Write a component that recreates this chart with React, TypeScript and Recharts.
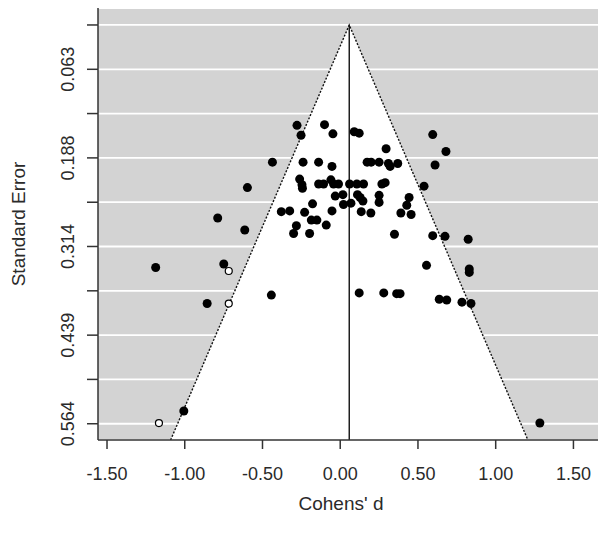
import React from "react";
import {
  ComposedChart,
  Scatter,
  Line,
  Area,
  XAxis,
  YAxis,
  CartesianGrid,
} from "recharts";

// effect sizes (Cohen's d) and standard errors of the observed studies
const studyD: number[] = [
  -1.187, -0.749, -0.856, -0.443, -1.006, -0.788, -0.614, -0.597, -0.436,
  -0.278, -0.252, -0.101, -0.047, 0.09, 0.122, 0.295, 0.595, 0.68, 0.61,
  -0.239, -0.139, -0.053, 0.173, 0.199, 0.25, 0.31, 0.321, 0.37, -0.261,
  -0.246, -0.243, -0.139, -0.107, -0.06, -0.043, -0.011, 0.06, 0.107, 0.15,
  0.268, 0.289, 0.539, -0.032, 0.017, 0.111, 0.128, 0.146, 0.25, 0.25, 0.443,
  0.428, 0.021, 0.069, -0.178, 0.135, 0.197, -0.053, -0.379, -0.325, -0.229,
  -0.186, -0.15, -0.09, -0.282, -0.3, -0.197, 0.349, 0.39, 0.456, 0.595,
  0.674, 0.823, 0.555, 0.83, 0.83, 0.122, 0.28, 0.363, 0.385, 0.637, 0.685,
  0.783, 0.841, 1.284,
];
const studySE: number[] = [
  0.343, 0.338, 0.394, 0.382, 0.546, 0.273, 0.29, 0.23, 0.194, 0.142, 0.156,
  0.141, 0.154, 0.151, 0.153, 0.175, 0.155, 0.179, 0.198, 0.194, 0.194, 0.2,
  0.194, 0.194, 0.194, 0.196, 0.2, 0.196, 0.218, 0.226, 0.231, 0.225, 0.225,
  0.219, 0.225, 0.225, 0.225, 0.225, 0.225, 0.225, 0.223, 0.228, 0.242, 0.24,
  0.24, 0.244, 0.249, 0.241, 0.251, 0.244, 0.255, 0.254, 0.252, 0.253, 0.264,
  0.266, 0.263, 0.264, 0.263, 0.265, 0.276, 0.276, 0.283, 0.284, 0.295, 0.295,
  0.296, 0.266, 0.268, 0.298, 0.299, 0.303, 0.34, 0.345, 0.35, 0.379, 0.379,
  0.38, 0.38, 0.388, 0.389, 0.392, 0.394, 0.563,
];

// imputed (filled) studies
const filledD: number[] = [-0.717, -0.717, -1.166];
const filledSE: number[] = [0.348, 0.394, 0.563];

// funnel outline: bottom-left, apex, bottom-right
const funnelD: number[] = [-1.091, 0.058, 1.207];
const funnelSE: number[] = [0.587, 0, 0.587];
const meanD = 0.058;

const xTicks: number[] = [-1.5, -1, -0.5, 0, 0.5, 1, 1.5];
const xTickLabels: string[] = ["-1.50", "-1.00", "-0.50", "0.00", "0.50", "1.00", "1.50"];
const yTicks: number[] = [0, 0.0627, 0.1253, 0.188, 0.2507, 0.3133, 0.376, 0.4387, 0.5013, 0.564];
const yTickLabels: string[] = ["", "0.063", "", "0.188", "", "0.314", "", "0.439", "", "0.564"];

const studies = studyD.map((d, i) => ({ x: d, se: studySE[i] }));
const imputed = filledD.map((d, i) => ({ x: d, se: filledSE[i] }));
const funnel = funnelD.map((d, i) => ({ x: d, se: funnelSE[i] }));
const meanLine = [
  { x: meanD, se: 0 },
  { x: meanD, se: 0.587 },
];

const FONT = "'Liberation Sans', Arial, sans-serif";
const TEXT = "#2a2a2a";

const XTick = (props: any) => {
  const { x, y, payload } = props;
  const i = xTicks.indexOf(payload.value);
  return (
    <text x={x} y={y + 31} textAnchor="middle" fontSize={18} fontFamily={FONT} fill={TEXT}>
      {xTickLabels[i]}
    </text>
  );
};

const YTick = (props: any) => {
  const { x, y, payload } = props;
  const i = yTicks.indexOf(payload.value);
  const tx = x - 13;
  return (
    <text
      x={tx}
      y={y}
      transform={`rotate(-90, ${tx}, ${y})`}
      textAnchor="middle"
      fontSize={18}
      fontFamily={FONT}
      fill={TEXT}
    >
      {yTickLabels[i]}
    </text>
  );
};

const dotShape = (props: any) => <circle cx={props.cx} cy={props.cy} r={4.5} fill="#000" />;
const openShape = (props: any) => (
  <circle cx={props.cx} cy={props.cy} r={3.5} fill="#fff" stroke="#000" strokeWidth={1.2} />
);

const App: React.FC = () => {
  return (
    <div style={{ position: "absolute", left: 0, top: 0, width: 604, height: 538, background: "#fff" }}>
      <ComposedChart width={604} height={538} margin={{ top: 8, right: 6, bottom: 0, left: 0 }}>
        <CartesianGrid
          vertical={false}
          stroke="#fff"
          strokeWidth={1.8}
          fill="#d3d3d3"
          fillOpacity={1}
        />
        <XAxis
          dataKey="x"
          type="number"
          domain={[-1.558, 1.658]}
          ticks={xTicks}
          allowDataOverflow
          height={98}
          tickSize={9}
          tickMargin={0}
          tick={<XTick />}
          axisLine={{ stroke: "#333", strokeWidth: 1.5 }}
          tickLine={{ stroke: "#333", strokeWidth: 1.5 }}
          label={{
            content: (p: any) => (
              <text
                x={p.viewBox.x + p.viewBox.width / 2 - 7}
                y={510}
                textAnchor="middle"
                fontSize={19}
                fontFamily={FONT}
                fill={TEXT}
              >
                Cohens' d
              </text>
            ),
          }}
        />
        <YAxis
          dataKey="se"
          type="number"
          reversed
          domain={[-0.024, 0.587]}
          ticks={yTicks}
          allowDataOverflow
          width={98}
          tickSize={11}
          tickMargin={0}
          tick={<YTick />}
          axisLine={{ stroke: "#333", strokeWidth: 1.5 }}
          tickLine={{ stroke: "#333", strokeWidth: 1.5 }}
          label={{
            content: (p: any) => {
              const cy = p.viewBox.y + p.viewBox.height / 2;
              return (
                <text
                  x={25}
                  y={cy}
                  transform={`rotate(-90, 25, ${cy})`}
                  textAnchor="middle"
                  fontSize={19}
                  fontFamily={FONT}
                  fill={TEXT}
                >
                  Standard Error
                </text>
              );
            },
          }}
        />
        <Area
          data={funnel}
          dataKey="se"
          type="linear"
          baseValue={0.587}
          stroke="none"
          fill="#fff"
          fillOpacity={1}
          isAnimationActive={false}
        />
        <Line
          data={funnel}
          dataKey="se"
          type="linear"
          stroke="#111"
          strokeWidth={1.4}
          strokeDasharray="2 1.6"
          dot={false}
          isAnimationActive={false}
        />
        <Line
          data={meanLine}
          dataKey="se"
          type="linear"
          stroke="#111"
          strokeWidth={1.4}
          dot={false}
          isAnimationActive={false}
        />
        <Scatter data={studies} dataKey="se" shape={dotShape} isAnimationActive={false} />
        <Scatter data={imputed} dataKey="se" shape={openShape} isAnimationActive={false} />
      </ComposedChart>
    </div>
  );
};

export default App;
